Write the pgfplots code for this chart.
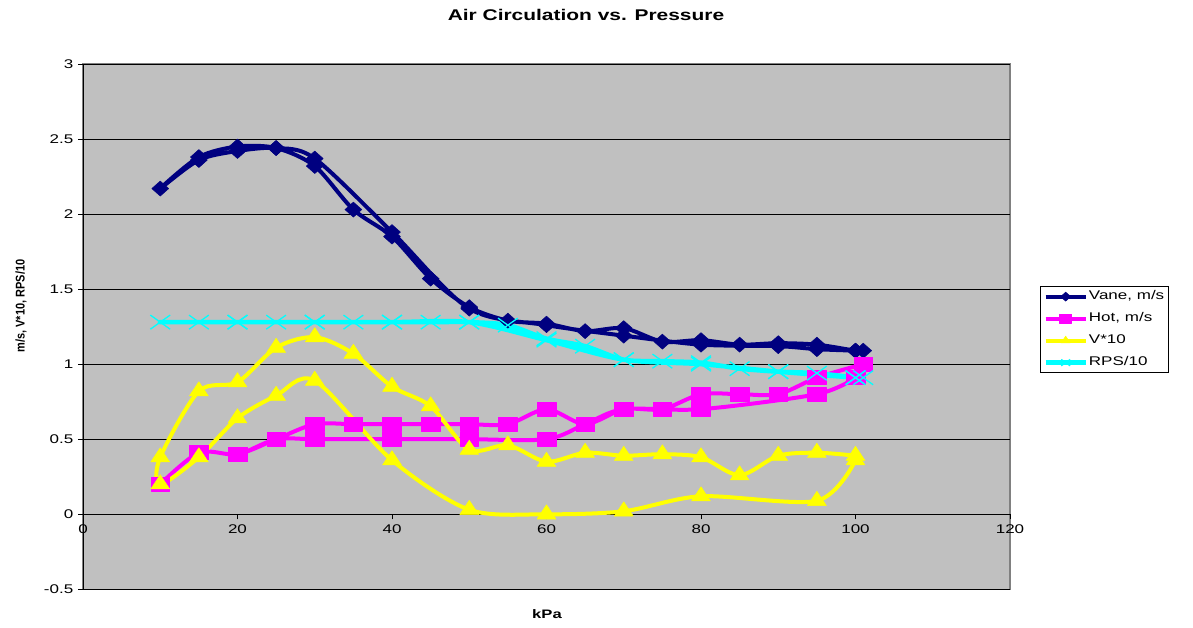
\documentclass[border=0pt]{standalone}
\usepackage{fontspec}
\setmainfont{Liberation Sans}
\usepackage{pgfplots}
\pgfplotsset{compat=1.18}

\definecolor{vanecol}{HTML}{000080}
\definecolor{hotcol}{HTML}{FF00FF}
\definecolor{voltcol}{HTML}{FFFF00}
\definecolor{rpscol}{HTML}{00FFFF}
\definecolor{plotbg}{HTML}{C0C0C0}
\definecolor{plotframe}{HTML}{808080}

\newcommand{\wide}[1]{\scalebox{1.35}[1]{#1}}

\begin{document}
\begin{tikzpicture}
\path[use as bounding box] (0,0) rectangle (1193pt,627pt);
\begin{axis}[
  at={(83pt,37.7pt)}, anchor=south west,
  scale only axis, width=927pt, height=525.3pt,
  xmin=0, xmax=120, ymin=-0.5, ymax=3,
  xtick={0,20,...,120},
  ytick={-0.5,0,0.5,1,1.5,2,2.5,3},
  axis y line=left, axis x line=middle,
  axis line style={-, black, line width=1pt},
  hide obscured x ticks=false, hide obscured y ticks=false,
  tick align=outside, major tick length=5pt,
  tick style={black, line width=0.8pt},
  ymajorgrids, grid style={black, line width=0.8pt},
  axis background/.style={fill=plotbg, draw=plotframe, line width=1.2pt},
  /pgf/number format/assume math mode=true,
  tick label style={font=\fontsize{12.6}{14}\selectfont, xscale=1.35},
  x tick label style={yshift=-2pt},
  every axis title/.style={at={(axis description cs:0.5426,1.0932)}, anchor=center,
    font=\bfseries\fontsize{15.5}{17}\selectfont, xscale=1.35},
  title={Air Circulation vs. Pressure},
  every axis x label/.style={at={(axis description cs:0.5005,-0.047)}, anchor=center,
    font=\bfseries\fontsize{12.3}{14}\selectfont, xscale=1.35},
  xlabel={kPa},
  every axis y label/.style={at={(axis description cs:-0.0669,0.539)}, rotate=90, anchor=center,
    font=\bfseries\fontsize{11}{12}\selectfont},
  ylabel={\scalebox{1}[1.15]{m/s, V*10, RPS/10}},
  legend style={at={(axis description cs:1.0324,0.5774)}, anchor=north west,
    draw=black, line width=0.8pt, fill=white,
    font=\fontsize{12.6}{14}\selectfont,
    nodes={inner sep=1pt, text height=9.5pt, text depth=3pt},
    row sep=7.5pt, inner xsep=3pt, inner ysep=3pt},
  legend cell align=left,
  legend image code/.code={\draw[mark repeat=2, mark phase=2, #1]
    plot coordinates {(0pt,0pt) (20pt,0pt) (40pt,0pt)};},
  legend image post style={mark size=4.5pt},
  every axis plot/.append style={smooth, line join=round},
]

% Vane anemometer, pumping down then back up
\addplot[color=vanecol, line width=4pt, mark=diamond*,
  mark size=7.5pt, mark options={solid, xscale=1.5, line width=0.5pt, fill=vanecol}]
  coordinates {
  (101,1.09) (100,1.09) (95,1.13) (90,1.14) (85,1.13) (80,1.16) (75,1.15)
  (70,1.24) (65,1.22) (60,1.27) (55,1.29) (50,1.38) (45,1.57) (40,1.85)
  (35,2.03) (30,2.32) (25,2.44) (20,2.45) (15,2.38) (10,2.17)
  (15,2.36) (20,2.42) (25,2.44) (30,2.37) (40,1.88) (50,1.37) (60,1.26)
  (70,1.19) (80,1.13) (90,1.12) (95,1.10) (100,1.09)
  };
\addlegendentry{\wide{Vane, m/s}}

% Hot-wire anemometer
\addplot[color=hotcol, line width=4pt, mark=square*,
  mark size=7pt, mark options={solid, xscale=1.33, line width=0.5pt, fill=hotcol}]
  coordinates {
  (101,1.00) (95,0.91) (90,0.80) (85,0.80) (80,0.80) (75,0.70) (70,0.70)
  (65,0.60) (60,0.70) (55,0.60) (50,0.60) (45,0.60) (40,0.60) (35,0.60)
  (30,0.60) (25,0.50) (20,0.40) (15,0.41) (10,0.20)
  (15,0.41) (20,0.40) (25,0.50) (30,0.50) (40,0.50) (50,0.50) (60,0.50)
  (65,0.60) (70,0.70) (80,0.70) (95,0.80) (100,0.91)
  };
\addlegendentry{\wide{Hot, m/s}}

% Generator voltage, scaled by 10
\addplot[color=voltcol, line width=4pt, mark=triangle*,
  mark size=9.5pt, mark options={solid, xscale=1.15, line width=0.5pt, fill=voltcol}]
  coordinates {
  (100,0.36) (95,0.09) (80,0.12) (70,0.02) (60,0.00) (50,0.03) (40,0.36)
  (30,0.89) (25,0.79) (20,0.64) (15,0.38) (10,0.20)
  (10,0.38) (15,0.82) (20,0.88) (25,1.11) (30,1.18) (35,1.07) (40,0.85)
  (45,0.72) (50,0.43) (55,0.46) (60,0.35) (65,0.41) (70,0.39) (75,0.40)
  (80,0.38) (85,0.26) (90,0.39) (95,0.41) (100,0.39)
  };
\addlegendentry{\wide{V*10}}

% Rotor speed, scaled by 1/10
\addplot[color=rpscol, line width=4.5pt, mark=x,
  mark size=10pt, mark options={solid, xscale=1.4, line width=1.3pt}]
  coordinates {
  (101,0.91) (100,0.91) (95,0.94) (90,0.95) (85,0.97) (80,1.01) (75,1.02)
  (70,1.03) (65,1.12) (60,1.17) (55,1.26) (50,1.28) (45,1.28) (40,1.28)
  (35,1.28) (30,1.28) (25,1.28) (20,1.28) (15,1.28) (10,1.28)
  (20,1.28) (30,1.28) (40,1.28) (50,1.28) (60,1.16) (70,1.03) (80,1.00)
  (90,0.95) (100,0.91)
  };
\addlegendentry{\wide{RPS/10}}

\end{axis}
\end{tikzpicture}
\end{document}
